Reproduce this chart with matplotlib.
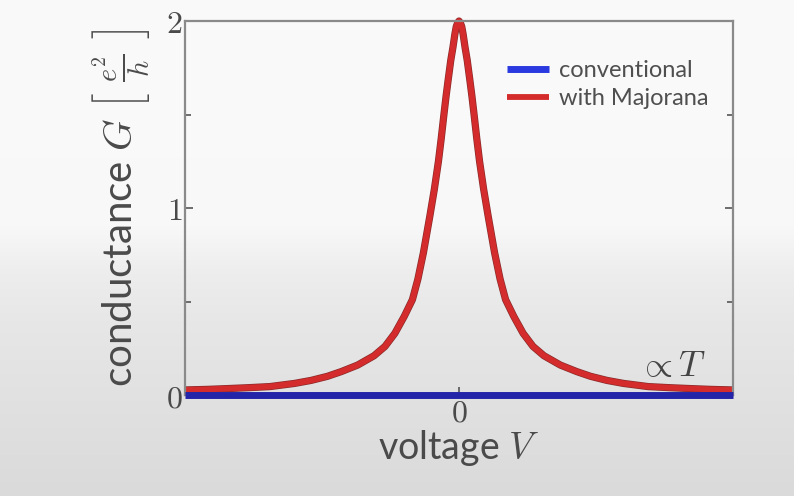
import numpy as np
import matplotlib
matplotlib.use("Agg")
import matplotlib.pyplot as plt
import matplotlib.patheffects as pe

# ---- data ----
voltage = [-1.0, -0.92, -0.85, -0.77, -0.69, -0.6, -0.54, -0.48, -0.43, -0.37,
           -0.31, -0.27, -0.234, -0.2, -0.17, -0.15, -0.13, -0.118, -0.106, -0.09,
           -0.075, -0.065, -0.055, -0.047, -0.04, -0.03, -0.022, -0.015, -0.01, -0.005,
           0.0,
           0.005, 0.01, 0.015, 0.022, 0.03, 0.04, 0.047, 0.055, 0.065, 0.075,
           0.09, 0.106, 0.118, 0.13, 0.15, 0.17, 0.2, 0.234, 0.27, 0.31,
           0.37, 0.43, 0.48, 0.54, 0.6, 0.69, 0.77, 0.85, 0.92, 1.0]
g_majorana = [0.027, 0.030, 0.034, 0.039, 0.045, 0.062, 0.078, 0.10, 0.125, 0.16,
              0.21, 0.26, 0.33, 0.42, 0.51, 0.62, 0.76, 0.86, 0.96, 1.10,
              1.25, 1.37, 1.50, 1.60, 1.68, 1.79, 1.86, 1.93, 1.97, 1.99,
              2.0,
              1.99, 1.97, 1.93, 1.86, 1.79, 1.68, 1.60, 1.50, 1.37, 1.25,
              1.10, 0.96, 0.86, 0.76, 0.62, 0.51, 0.42, 0.33, 0.26, 0.21,
              0.16, 0.125, 0.10, 0.078, 0.062, 0.045, 0.039, 0.034, 0.030, 0.027]
voltage_conv = [-1.0, 1.0]
g_conventional = [0.0, 0.0]
ytick_vals = [0, 1, 2]
ytick_labels = ["0", "1", "2"]
xtick_vals = [0]
xtick_labels = ["0"]

plt.rcParams['mathtext.fontset'] = 'cm'
plt.rcParams['font.family'] = ['Lato', 'DejaVu Sans']

fig = plt.figure(figsize=(7.94, 4.96), dpi=100)

# background gradient (video screenshot look)
bg = fig.add_axes([0, 0, 1, 1], zorder=-10)
rows = np.linspace(0, 1, 496)
shade = np.interp(rows, [0.0, 0.45, 0.55, 0.65, 1.0], [0.98, 0.975, 0.93, 0.905, 0.855])
img = np.repeat(shade[:, None], 3, axis=1)[:, None, :]
bg.imshow(img, aspect='auto', extent=[0, 1, 1, 0])
bg.axis('off')

ax = fig.add_axes([185/794, 1-395/496, (733-185)/794, (395-21)/496])
ax.set_facecolor('none')

ax.plot(voltage_conv, g_conventional, color='#2424a8', lw=5, clip_on=False,
        solid_capstyle='butt', label='conventional', zorder=3)
ax.plot(voltage, g_majorana, color='#d42c2c', lw=4.2, clip_on=False,
        solid_capstyle='butt', solid_joinstyle='round', label='with Majorana', zorder=2,
        path_effects=[pe.Stroke(linewidth=5.2, foreground='#8a2a2a'), pe.Normal()])

ax.set_xlim(-1, 1)
ax.set_ylim(0, 2)

for s in ax.spines.values():
    s.set_color('#8a8a8a')
    s.set_linewidth(1.6)

ax.set_yticks(ytick_vals)
ax.set_yticks([0.5, 1.5], minor=True)
ax.set_xticks(xtick_vals)
ax.tick_params(axis='both', which='both', direction='in', color='#555555',
               labelcolor='#4a4a4a', labelsize=23, right=True, top=False)
ax.tick_params(axis='both', which='major', length=6, width=1.2, pad=2)
ax.tick_params(axis='both', which='minor', length=4, width=1.2)
ax.set_yticklabels([r'$%s$' % t for t in ytick_labels])
ax.set_xticklabels([r'$%s$' % t for t in xtick_labels])

ax.set_xlabel(r'voltage $V$', fontsize=27, color='#4a4a4a', labelpad=0)
ax.set_ylabel(r'conductance $G$ $\left[\ \frac{e^2}{h}\ \right]$', fontsize=29,
              color='#4a4a4a', labelpad=10)

ax.text(0.889, 0.08, r'$\propto T$', transform=ax.transAxes, fontsize=26,
        color='#444444', ha='center', va='center')

leg = ax.legend(loc='upper right', bbox_to_anchor=(0.955, 0.895), frameon=False,
                fontsize=17, handlelength=1.8, handletextpad=0.4,
                labelspacing=0.3, borderaxespad=0, borderpad=0)
for t in leg.get_texts():
    t.set_color('#4f4f4f')
leg.get_lines()[0].set_color('#2a3ae0')
leg.get_lines()[1].set_path_effects([])

fig.savefig('out.png', dpi=100)
